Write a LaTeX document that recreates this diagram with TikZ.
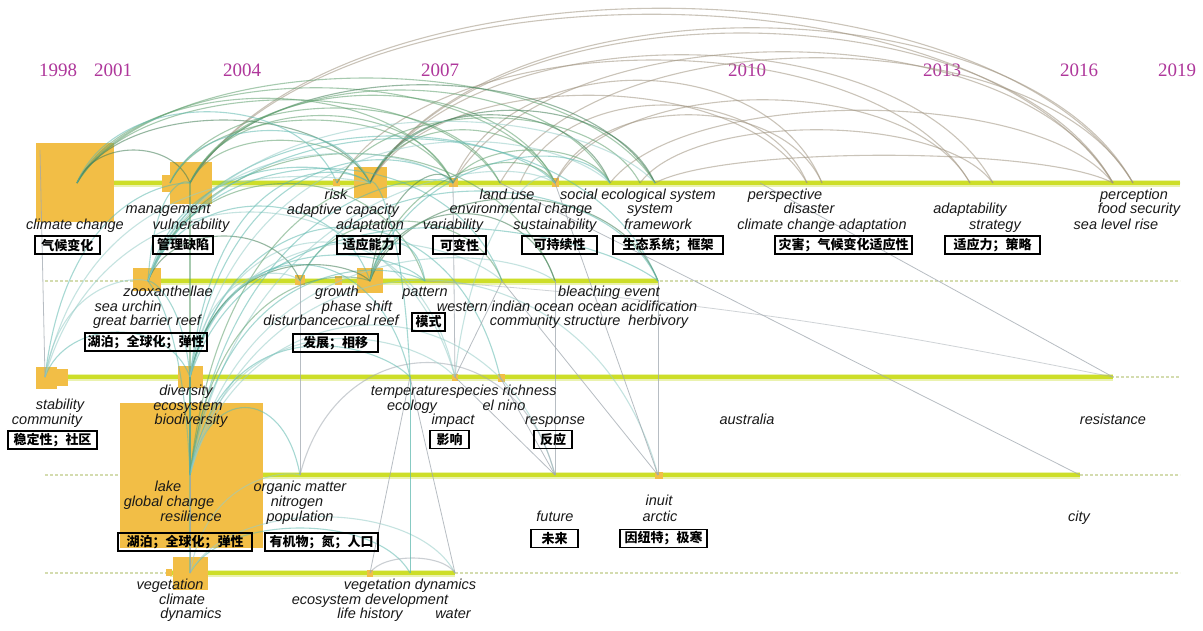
\documentclass[tikz,border=0pt]{standalone}
\usepackage{fontspec}
\setmainfont{Liberation Sans}
\newfontfamily\kwf{Liberation Sans}
\newfontfamily\yrf{Liberation Serif}
\newfontfamily\cjk{Noto Sans CJK SC}
\usetikzlibrary{calc}
\definecolor{boxo}{RGB}{242,190,70}
\definecolor{tlc}{RGB}{205,222,40}
\definecolor{tlh}{RGB}{234,242,175}
\definecolor{dsh}{RGB}{212,220,175}
\definecolor{yrc}{RGB}{175,55,155}
\definecolor{cB}{RGB}{160,148,128}
\definecolor{cG}{RGB}{95,160,110}
\definecolor{cDG}{RGB}{65,125,85}
\definecolor{cT}{RGB}{95,185,175}
\definecolor{cL}{RGB}{150,205,200}
\definecolor{cGr}{RGB}{160,168,175}
\definecolor{kwc}{RGB}{25,25,25}
\tikzset{
  kw/.style={font=\kwf\itshape\fontsize{14.5}{15}\selectfont, text=kwc, inner sep=0pt, anchor=mid},
  cn/.style={draw=black, line width=1.2pt, font=\cjk\bfseries\fontsize{13}{13}\selectfont, inner sep=0pt, minimum height=18pt, anchor=center},
  yr/.style={font=\yrf\fontsize{19}{19}\selectfont, text=yrc, inner sep=0pt, anchor=center},
  obox/.style={fill=boxo},
  arc/.style={line width=1.1pt, opacity=0.55},
  thinl/.style={line width=0.8pt, opacity=0.75, cGr},
  dashl/.style={dsh, line width=1.2pt, dash pattern=on 3pt off 2pt},
  halo/.style={tlh, line width=7pt},
  core/.style={tlc, line width=3.5pt}
}
\newcommand\arcu[4][cG]{\draw[arc,#1] (#2) .. controls ($(#2)!0.15!(#3)+(0,-#4)$) and ($(#2)!0.85!(#3)+(0,-#4)$) .. (#3);}
\newcommand\arcx[5][cT]{\draw[arc,#1] (#2) .. controls ($(#2)!0.15!(#3)+(0,-#4)$) and ($(#2)!0.85!(#3)+(0,-#5)$) .. (#3);}
\newcommand\kw[3]{\node[kw] (#1) at (#2) {#3};}
\newcommand\cnb[4]{\node[cn, minimum width=#3pt] (#1) at (#2) {#4};}
\begin{document}
\begin{tikzpicture}[x=1pt,y=-1pt]
\fill[white] (0,0) rectangle (1203,630);
\useasboundingbox (0,0) rectangle (1203,630);
% ---------- keyword coordinates ----------
\foreach \n/\x in {cc/77,mg/170,vu/190,rk/337,ac/350,ad/370,va/453,lu/500,en/520,su/555,se/610,sy/640,fw/655,pe/760,di/807,ca/822,ab/970,st/993,pc/1113,fs/1133,ra/45,rb/1180}
  \coordinate (\n) at (\x,183);
\foreach \n/\x in {zx/148,gr/300,ps/338,cr/370,pt/425,rtb/502,rtc/555,hb/658,sa/45,sb2/1180}
  \coordinate (\n) at (\x,281);
\foreach \n/\x in {sb/45,cm/60,dv/190,tp/410,sr/455,ent/500,au/720,re/1113,ta/36,tb/1180}
  \coordinate (\n) at (\x,377);
\foreach \n/\x in {rl/190,om/300,fu/555,in/658,ci/1080,fa/45,fb/1180}
  \coordinate (\n) at (\x,475);
\foreach \n/\x in {dy/190,ve/170,ed/370,vd/410,wa/455,ga/45,gb/1180}
  \coordinate (\n) at (\x,573);
\coordinate (lt) at (40,150);
% ---------- years ----------
\node[yr] (y1) at (58,70) {1998};
\node[yr] (y2) at (113,70) {2001};
\node[yr] (y3) at (242,70) {2004};
\node[yr] (y4) at (440,70) {2007};
\node[yr] (y5) at (747,70) {2010};
\node[yr] (y6) at (942,70) {2013};
\node[yr] (y7) at (1079,70) {2016};
\node[yr] (y8) at (1177,70) {2019};
% ---------- timelines ----------
\draw[dashl] (ra) -- (rb);
\draw[dashl] (sa) -- (sb2);
\draw[dashl] (ta) -- (tb);
\draw[dashl] (fa) -- (fb);
\draw[dashl] (ga) -- (gb);
\draw[halo] (cc) -- (rb);  \draw[core] (cc) -- (rb);
\draw[halo] (zx) -- (hb);  \draw[core] (zx) -- (hb);
\draw[halo] (ta) -- (re);  \draw[core] (ta) -- (re);
\draw[halo] (rl) -- (ci);  \draw[core] (rl) -- (ci);
\draw[halo] (ve) -- (wa);  \draw[core] (ve) -- (wa);
% ---------- boxes ----------
\fill[obox] (36,143) rectangle (114,222);
\fill[obox] (170,162) rectangle (212,204);
\fill[obox] (162,175) rectangle (177,192);
\fill[obox] (333,179) rectangle (340,186);
\fill[obox] (354,167) rectangle (387,198);
\fill[obox] (449,178) rectangle (458,187);
\fill[obox] (552,178) rectangle (559,187);
\fill[obox] (133,268) rectangle (161,291);
\fill[obox] (295,275) rectangle (305,285);
\fill[obox] (335,276) rectangle (342,285);
\fill[obox] (357,268) rectangle (383,293);
\fill[obox] (36,367) rectangle (57,389);
\fill[obox] (55,369) rectangle (68,386);
\fill[obox] (178,366) rectangle (203,388);
\fill[obox] (452,374) rectangle (458,381);
\fill[obox] (498,374) rectangle (505,382);
\fill[obox] (120,403) rectangle (263,548);
\fill[obox] (655,472) rectangle (663,479);
\fill[obox] (173,557) rectangle (208,590);
\fill[obox] (166,569) rectangle (172,576);
\fill[obox] (178,566) rectangle (191,580);
\fill[obox] (367,570) rectangle (373,577);
% ---------- arcs row 1 (brown, late) ----------
\arcu[cB]{vu}{fs}{233}
\arcu[cB]{vu}{pc}{225}
\arcu[cB]{ad}{fs}{207}
\arcu[cB]{ad}{pc}{200}
\arcu[cB]{va}{pc}{175}
\arcu[cB]{lu}{fs}{167}
\arcu[cB]{ad}{st}{171}
\arcu[cB]{rk}{ab}{164}
\arcu[cB]{su}{ab}{111}
\arcu[cB]{se}{pc}{97}
\arcu[cB]{en}{di}{104}
\arcu[cB]{su}{ca}{91}
\arcu[cB]{fw}{pc}{37}
\arcu[cB]{sy}{st}{71}
\arcu[cB]{ad}{di}{117}
\arcu[cB]{va}{ca}{137}
% ---------- arcs row 1 (green) ----------
\arcu[cG]{cc}{fw}{140}
\arcu[cG]{cc}{su}{127}
\arcu[cG]{cc}{va}{113}
\arcu[cDG]{vu}{fw}{131}
\arcu[cG]{vu}{su}{117}
\arcu[cG]{vu}{se}{124}
\arcu[cDG]{cc}{ad}{84}
\arcu[cG]{vu}{ad}{57}
\arcu[cG]{mg}{va}{84}
\arcu[cG]{cc}{lu}{111}
\arcu[cDG]{ad}{fw}{97}
\arcu[cG]{ad}{su}{71}
\arcu[cDG]{ad}{se}{91}
\arcu[cG]{rk}{sy}{87}
\arcu[cG]{va}{se}{44}
\arcu[cDG]{cc}{vu}{44}
\arcu[cG]{vu}{va}{90}
\arcu[cG]{mg}{lu}{100}
\arcu[cT]{mg}{ad}{70}
\arcu[cT]{cc}{rk}{95}
% ---------- arcs row 2 ----------
\arcu[cT]{zx}{cr}{100}
\arcu[cG]{zx}{pt}{130}
\arcu[cT]{zx}{rtb}{150}
\arcu[cG]{zx}{rtc}{170}
\arcu[cT]{zx}{hb}{190}
\arcu[cDG]{cr}{hb}{110}
\arcu[cDG]{cr}{rtc}{90}
\arcu[cG]{gr}{rtb}{80}
\arcu[cT]{cr}{pt}{50}
\arcu[cDG]{zx}{gr}{60}
\arcu[cT]{gr}{hb}{120}
% ---------- arcs row 3 ----------
\arcu[cT]{sb}{dv}{60}
\arcu[cT]{dv}{tp}{150}
\arcu[cL]{dv}{sr}{180}
\arcu[cT]{dv}{ent}{200}
\arcu[cL]{sb}{sr}{220}
% ---------- arcs row 4 / 5 ----------
\arcu[cT]{rl}{om}{90}
\arcu[cL]{rl}{fu}{200}
\arcu[cL]{rl}{in}{260}
\arcu[cGr]{om}{fu}{150}
\arcu[cT]{dy}{vd}{60}
\arcu[cL]{dy}{wa}{75}
\arcu[cGr]{ed}{wa}{20}
% ---------- cross-row curves ----------
\arcx[cG]{rl}{vu}{150}{40}
\arcx[cG]{rl}{ad}{200}{40}
\arcx[cT]{rl}{va}{230}{60}
\arcx[cL]{rl}{su}{250}{80}
\arcx[cG]{rl}{cr}{180}{40}
\arcx[cT]{rl}{pt}{200}{50}
\arcx[cL]{rl}{rtc}{220}{70}
\arcx[cDG]{rl}{dv}{60}{10}
\arcx[cT]{rl}{tp}{160}{50}
\arcx[cL]{rl}{sr}{170}{60}
\arcx[cT]{dv}{ad}{200}{50}
\arcx[cT]{dv}{va}{220}{70}
\arcx[cL]{dv}{se}{260}{90}
\arcx[cDG]{dv}{cr}{120}{40}
\arcx[cT]{dv}{pt}{140}{50}
\arcx[cL]{dv}{rtb}{170}{60}
\arcx[cT]{dv}{hb}{200}{70}
\arcx[cT]{dv}{zx}{60}{15}
\arcx[cL]{sb}{zx}{80}{20}
\arcx[cT]{sb}{vu}{150}{30}
\arcx[cL]{sb}{ad}{200}{40}
\arcx[cT]{zx}{vu}{80}{20}
\arcx[cT]{zx}{ad}{120}{40}
\arcx[cL]{zx}{va}{140}{60}
\arcx[cT]{zx}{su}{170}{80}
\arcx[cL]{zx}{fw}{190}{100}
\arcx[cDG]{cr}{va}{80}{40}
\arcx[cG]{cr}{su}{100}{60}
\arcx[cT]{cr}{se}{110}{70}
\arcx[cT]{dy}{dv}{120}{30}
\arcx[cL]{dy}{om}{80}{20}
\arcx[cT]{tp}{ad}{120}{40}
\arcx[cL]{sr}{su}{120}{60}
\arcx[cT]{rl}{zx}{120}{20}
\arcx[cL]{dv}{gr}{100}{30}
% ---------- thin straight-ish links ----------
\draw[thinl] (sb) -- (lt);
\draw[thinl] (dy) -- (rl);
\draw[thinl, cT] (vd) -- (tp);
\draw[thinl] (om) -- (gr);
\draw[thinl] (sr) -- (va);
\draw[thinl] (lu) -- (ci);
\draw[thinl] (sr) -- (fu);
\draw[thinl] (ent) -- (fu);
\draw[thinl] (rtc) -- (fu);
\draw[thinl] (rtb) -- (in);
\draw[thinl] (hb) -- (in);
\draw[thinl] (su) -- (in);
\draw[thinl] (pe) -- (re);
\draw[thinl] (rtb) -- (sr);
\draw[thinl] (tp) -- (wa);
\draw[thinl] (ed) -- (tp);
\draw[thinl, opacity=0.5] (pt) .. controls ($(pt)+(300,20)$) and ($(re)+(-200,-40)$) .. (re);
% ---------- labels row 1 ----------
\kw{a1}{75,227}{climate change}
\kw{a2}{168,211}{management}
\kw{a3}{191,227}{vulnerability}
\kw{a4}{336,197}{risk}
\kw{a5}{343,212}{adaptive capacity}
\kw{a6}{370,227}{adaptation}
\kw{a7}{453,227}{variability}
\kw{a8}{507,197}{land use}
\kw{a9}{521,211}{environmental change}
\kw{a10}{555,227}{sustainability}
\kw{a11}{638,197}{social ecological system}
\kw{a12}{650,211}{system}
\kw{a13}{658,227}{framework}
\kw{a14}{785,197}{perspective}
\kw{a15}{809,211}{disaster}
\kw{a16}{822,227}{climate change adaptation}
\kw{a17}{970,211}{adaptability}
\kw{a18}{995,227}{strategy}
\kw{a19}{1134,197}{perception}
\kw{a20}{1139,211}{food security}
\kw{a21}{1116,227}{sea level rise}
\cnb{b1}{67.5,245}{65}{气候变化}
\cnb{b2}{183,245}{60}{管理缺陷}
\cnb{b3}{368.5,245}{63}{适应能力}
\cnb{b4}{459.5,245}{53}{可变性}
\cnb{b5}{559.5,245}{75}{可持续性}
\cnb{b6}{668,245}{110}{生态系统；框架}
\cnb{b7}{843.5,245}{137}{灾害；气候变化适应性}
\cnb{b8}{992.5,245}{95}{适应力；策略}
% ---------- labels row 2 ----------
\kw{c1}{168,294}{zooxanthellae}
\kw{c2}{128,309}{sea urchin}
\kw{c3}{147,323}{great barrier reef}
\kw{c4}{337,294}{growth}
\kw{c5}{357,309}{phase shift}
\kw{c6}{331,323}{disturbancecoral reef}
\kw{c7}{425,294}{pattern}
\kw{c8}{609,294}{bleaching event}
\kw{c9}{567,309}{western indian ocean ocean acidification}
\kw{c10}{589,323}{community structure\ \ herbivory}
\cnb{d1}{146,342}{122}{湖泊；全球化；弹性}
\cnb{d2}{335.5,343}{85}{发展；相移}
\cnb{d3}{428.5,322}{33}{模式}
% ---------- labels row 3 ----------
\kw{e1}{60,407}{stability}
\kw{e2}{47,422}{community}
\kw{e3}{186,393}{diversity}
\kw{e4}{188,408}{ecosystem}
\kw{e5}{191,422}{biodiversity}
\kw{e6}{410,393}{temperature}
\kw{e7}{503,393}{species richness}
\kw{e8}{412,408}{ecology}
\kw{e9}{504,408}{el nino}
\kw{e10}{453,422}{impact}
\kw{e11}{555,422}{response}
\kw{e12}{747,422}{australia}
\kw{e13}{1113,422}{resistance}
\cnb{f1}{52.5,440}{89}{稳定性；社区}
\cnb{f2}{449.5,439.5}{39}{影响}
\cnb{f3}{553,439.5}{38}{反应}
% ---------- labels row 4 ----------
\kw{g1}{168,489}{lake}
\kw{g2}{169,504}{global change}
\kw{g3}{191,519}{resilience}
\kw{g4}{300,489}{organic matter}
\kw{g5}{297,504}{nitrogen}
\kw{g6}{300,519}{population}
\kw{g7}{555,519}{future}
\kw{g8}{659,503}{inuit}
\kw{g9}{660,519}{arctic}
\kw{g10}{1079,519}{city}
\cnb{h1}{185,542}{134}{湖泊；全球化；弹性}
\cnb{h2}{321.5,542}{113}{有机物；氮；人口}
\cnb{h3}{554.5,538.5}{47}{未来}
\cnb{h4}{663.5,538.5}{87}{因纽特；极寒}
% ---------- labels row 5 ----------
\kw{i1}{170,587}{vegetation}
\kw{i2}{182,602}{climate}
\kw{i3}{191,616}{dynamics}
\kw{i4}{410,587}{vegetation dynamics}
\kw{i5}{370,602}{ecosystem development}
\kw{i6}{370,616}{life history}
\kw{i7}{453,616}{water}
\end{tikzpicture}
\end{document}
